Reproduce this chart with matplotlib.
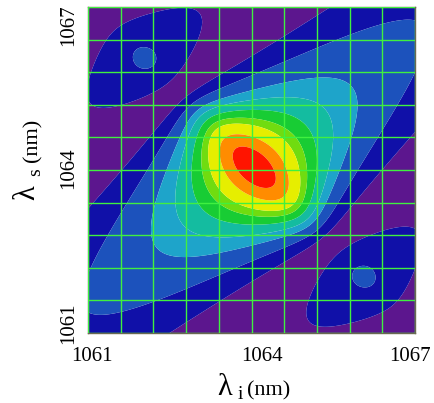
import numpy as np
import matplotlib.pyplot as plt
import matplotlib.transforms as mtransforms

plt.rcParams['font.family'] = ['Liberation Serif', 'DejaVu Serif']
plt.rcParams['mathtext.fontset'] = 'stix'

# wavelength window (nm) and tick labels
lam_min, lam_max = 1061, 1067
tick_vals = [1061, 1064, 1067]
tick_text = ['1061', '1064', '1067']
n_grid = 10

# joint spectral intensity model
center_i, center_s = 1064.05, 1064.05
pump_width = 0.697      # nm, along lambda_s + lambda_i
pump_power = 0.75
pm_slope = 0.85         # phase matching ridge slope
pm_width = 2.6          # nm, sinc width

# filled contour levels and colours (low -> high)
levels = [0, 0.01, 0.042, 0.095, 0.15, 0.23, 0.32, 0.41, 0.6, 0.82, 1.01]
colors = ['#5c168e', '#1010a8', '#1c52bc', '#1ea4ca', '#14bca0',
          '#18cc34', '#70dc10', '#e6ee00', '#ff8c00', '#ff1400']

li = np.linspace(lam_min, lam_max, 500)
ls = np.linspace(lam_min, lam_max, 500)
LI, LS = np.meshgrid(li, ls)
x = LI - center_i
y = LS - center_s
pump = (1 + ((x + y) / pump_width) ** 2) ** (-pump_power)
phase = np.sinc((y - pm_slope * x) / pm_width) ** 2
jsi = pump * phase

fig = plt.figure(figsize=(4.35, 4.03), dpi=100)
ax = fig.add_axes([88/435, 70/403, 327/435, 326/403])
ax.contourf(LI, LS, jsi, levels=levels, colors=colors, antialiased=True)
ax.set_xlim(lam_min, lam_max)
ax.set_ylim(lam_min, lam_max)

grid_pos = np.linspace(lam_min, lam_max, n_grid + 1)
ax.set_xticks(grid_pos, minor=True)
ax.set_yticks(grid_pos, minor=True)
ax.set_xticks(tick_vals)
ax.set_yticks(tick_vals)
ax.set_xticklabels(tick_text, fontsize=15)
ax.set_yticklabels(tick_text, fontsize=15, rotation=90, va='center')
ax.tick_params(which='both', length=0)
ax.tick_params(axis='x', pad=10)
ax.tick_params(axis='y', pad=7)
ax.set_axisbelow(False)
ax.grid(which='both', color='#40f040', lw=1.0)
for sp in ax.spines.values():
    sp.set_color('#6a6a50')
    sp.set_linewidth(1)

# nudge tick labels like the original
x_shift = [4, 10, -5]
y_shift = [10, 2, -18]
for lab, dx in zip(ax.get_xticklabels(), x_shift):
    lab.set_transform(lab.get_transform() + mtransforms.ScaledTranslation(dx/100, 0, fig.dpi_scale_trans))
for lab, dy in zip(ax.get_yticklabels(), y_shift):
    lab.set_transform(lab.get_transform() + mtransforms.ScaledTranslation(0, dy/100, fig.dpi_scale_trans))

# axis labels built from pieces (big lambda, subscript, units)
fig.text(225/435, 1 - 395/403, 'λ', fontsize=22, ha='center', va='baseline')
fig.text(240/435, 1 - 399/403, 'i', fontsize=14, ha='center', va='baseline')
fig.text(269/435, 1 - 395/403, '(nm)', fontsize=16, ha='center', va='baseline')

fig.text(41/435, 1 - 193/403, 'λ', fontsize=22, ha='right', va='center', rotation=90)
fig.text(44/435, 1 - 172/403, 's', fontsize=14, ha='right', va='center', rotation=90)
fig.text(42/435, 1 - 140/403, '(nm)', fontsize=16, ha='right', va='center', rotation=90)

fig.savefig('out.png', dpi=100)
